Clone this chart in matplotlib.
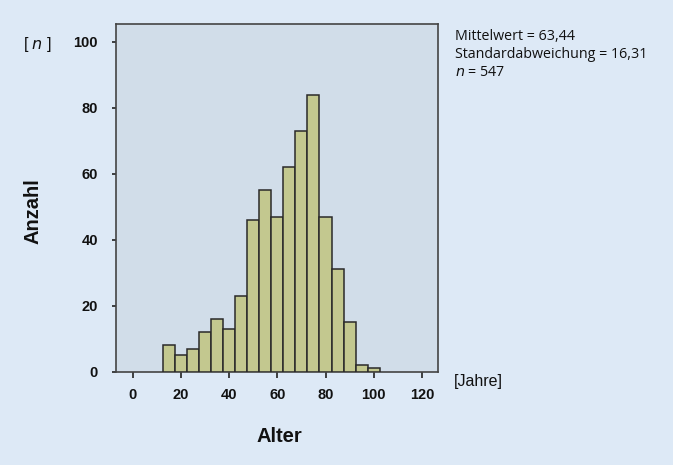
import matplotlib
matplotlib.use("Agg")
import matplotlib.pyplot as plt

# Data
bin_centers = [15, 20, 25, 30, 35, 40, 45, 50, 55, 60, 65, 70, 75, 80, 85, 90, 95, 100]
counts = [8, 5, 7, 12, 16, 13, 23, 46, 55, 47, 62, 73, 84, 47, 31, 15, 2, 1]
bin_width = 5
x_ticks = [0, 20, 40, 60, 80, 100, 120]
y_ticks = [0, 20, 40, 60, 80, 100]
stats_lines = ["Mittelwert = 63,44", "Standardabweichung = 16,31"]

fig_bg = "#dde9f6"
ax_bg = "#d1dde9"
bar_color = "#c3c88f"
edge = "#2a2a2a"

fig = plt.figure(figsize=(6.73, 4.65), dpi=100, facecolor=fig_bg)
ax = fig.add_axes([0.1724, 0.2006, 0.4789, 0.7477])
ax.set_facecolor(ax_bg)

ax.bar(bin_centers, counts, width=bin_width, color=bar_color,
       edgecolor=edge, linewidth=1.1, zorder=3)

ax.set_xlim(-6.9, 126.8)
ax.set_ylim(0, 105.4)
ax.set_xticks(x_ticks)
ax.set_yticks(y_ticks)
ax.set_xticklabels([str(t) for t in x_ticks], fontsize=10.5, fontweight="bold",
                   family="Liberation Sans", color="#111111")
ax.set_yticklabels([str(t) for t in y_ticks], fontsize=10.5, fontweight="bold",
                   family="Liberation Sans", color="#111111")
ax.tick_params(axis="x", length=4, width=1.2, color="#222222", pad=8)
ax.tick_params(axis="y", length=3, width=1.2, color="#222222", pad=10)
for s in ax.spines.values():
    s.set_color("#444444")
    s.set_linewidth(1.2)

# Axis labels
fig.text(33 / 673, 1 - 211 / 465, "Anzahl", rotation=90, ha="center", va="center",
         fontsize=14.5, fontweight="bold", family="Liberation Sans", color="#111111")
fig.text(279 / 673, 1 - 436 / 465, "Alter", ha="center", va="center",
         fontsize=14.5, fontweight="bold", family="Liberation Sans", color="#111111")
fig.text(37 / 673, 1 - 44 / 465, r"[ $\it{n}$ ]", ha="center", va="center",
         fontsize=11.5, family="Liberation Sans", color="#111111")
fig.text(454 / 673, 1 - 381 / 465, "[Jahre]", ha="left", va="center",
         fontsize=11.5, family="Liberation Sans", color="#111111")

# Stats text
fs = 10.3
fig.text(455 / 673, 1 - 36 / 465, stats_lines[0], ha="left", va="center",
         fontsize=fs, family="Open Sans", color="#111111")
fig.text(455 / 673, 1 - 55 / 465, stats_lines[1], ha="left", va="center",
         fontsize=fs, family="Open Sans", color="#111111")
fig.text(455 / 673, 1 - 73 / 465, "$\\it{n}$ = 547", ha="left", va="center",
         fontsize=fs, family="Open Sans", color="#111111")

fig.savefig("out.png", dpi=100, facecolor=fig_bg)
